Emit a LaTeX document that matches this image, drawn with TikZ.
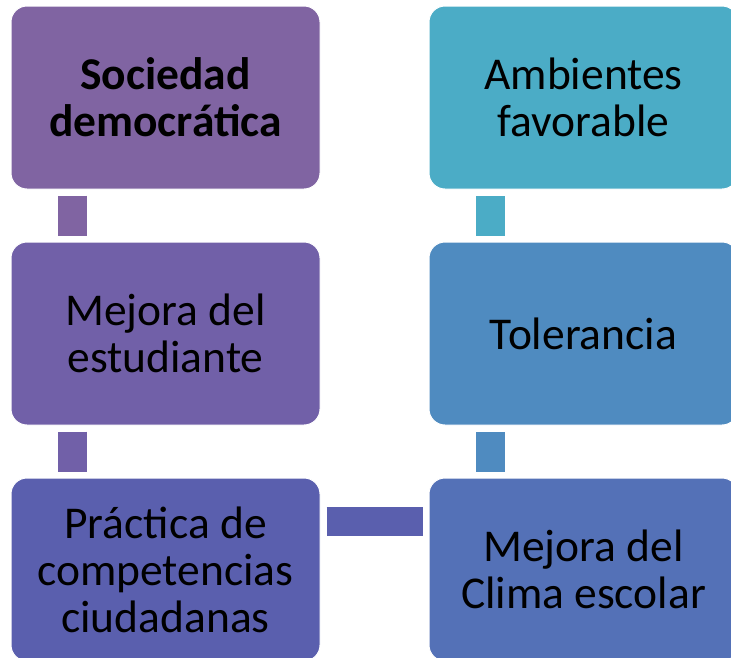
\documentclass[tikz,border=0pt]{standalone}
\usepackage{fontspec}
\setmainfont{Carlito}
\usepackage{tikz}
\usetikzlibrary{shapes, positioning}

\definecolor{boxA}{HTML}{8064A2}
\definecolor{boxB}{HTML}{7160A8}
\definecolor{boxC}{HTML}{5A5FAE}
\definecolor{boxD}{HTML}{5471B7}
\definecolor{boxE}{HTML}{4F8BC0}
\definecolor{boxF}{HTML}{4BACC6}

\begin{document}
\begin{tikzpicture}
  [
    x=1pt, y=-1pt,
    Box/.style={rectangle, rounded corners=16pt, draw=white, line width=1pt, minimum width=309pt, minimum height=183pt, inner sep=0pt, align=center, font=\fontsize{45.5}{47}\selectfont},
    Bar/.style={line width=29pt, shorten <=6pt, shorten >=6pt}
  ]
  \useasboundingbox (0,0) rectangle (731,657);
  \clip (0,0) rectangle (731,657);

  % Nodes
  \node[Box, fill=boxA] (v0) at(165.5, 97.5) {\bfseries Sociedad\\\bfseries democrática};

  \node[Box, fill=boxB] (v1) at(165.5, 333.5) {Mejora del\\estudiante};

  \node[Box, fill=boxC] (v2) at(165.5, 569.5) {Práctica de\\competencias\\ciudadanas};

  \node[Box, fill=boxD] (v3) at(583.5, 569.5) {Mejora del\\Clima escolar};

  \node[Box, fill=boxE] (v4) at(583.5, 333.5) {Tolerancia};

  \node[Box, fill=boxF] (v5) at(583.5, 97.5) {Ambientes\\favorable};

  % Lines
  \path [draw=boxA, Bar] ([xshift=61.5pt]v0.south west) -- ([xshift=61.5pt]v1.north west);
  \path [draw=boxB, Bar] ([xshift=61.5pt]v1.south west) -- ([xshift=61.5pt]v2.north west);
  \path [draw=boxC, Bar] ([yshift=-43.5pt]v2.north east) -- ([yshift=-43.5pt]v3.north west);
  \path [draw=boxE, Bar] ([xshift=61.5pt]v3.north west) -- ([xshift=61.5pt]v4.south west);
  \path [draw=boxF, Bar] ([xshift=61.5pt]v4.north west) -- ([xshift=61.5pt]v5.south west);

\end{tikzpicture}
\end{document}
